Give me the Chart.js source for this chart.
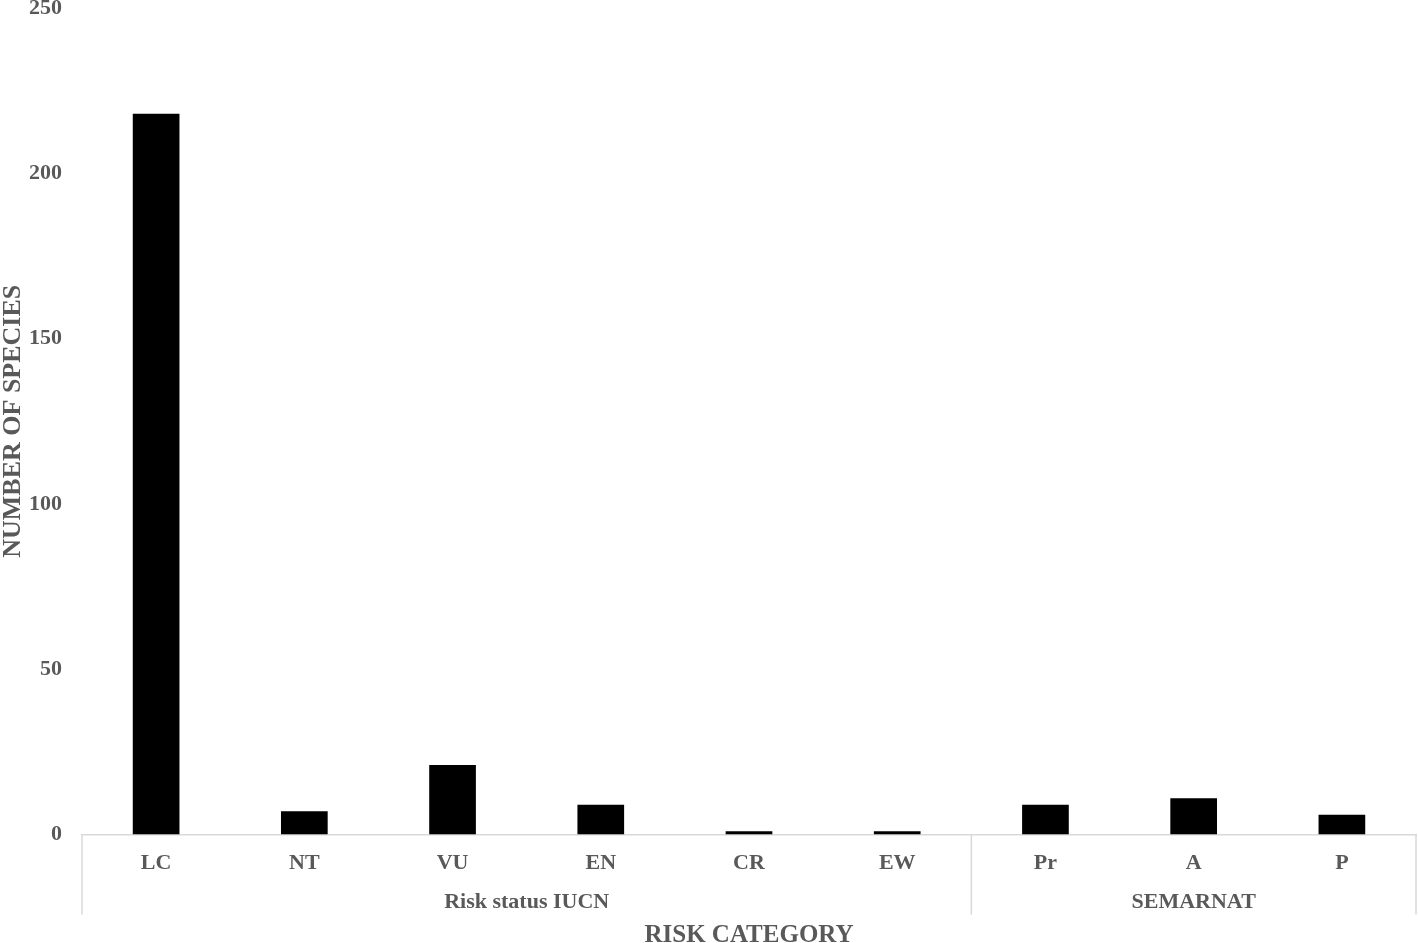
<!DOCTYPE html>
<html>
<head>
<meta charset="utf-8">
<title>Risk category</title>
<script src="https://cdn.jsdelivr.net/npm/chart.js@4.4.0/dist/chart.umd.min.js"></script>
<style>
  html, body { margin: 0; padding: 0; background: #fff; }
  #wrap { width: 1418px; height: 943px; position: relative; }
</style>
</head>
<body>
<div id="wrap"><canvas id="riskChart"></canvas></div>
<script>
// ---- data ----
const categories = ["LC", "NT", "VU", "EN", "CR", "EW", "Pr", "A", "P"];
const speciesCounts = [218, 7, 21, 9, 1, 1, 9, 11, 6];
const groupNames = ["Risk status IUCN", "SEMARNAT"];
const groupSizes = [6, 3];
const yTicks = [0, 50, 100, 150, 200, 250];

const FONT = "'Liberation Serif', 'Times New Roman', serif";
const GREY = "#595959";
const LINE = "#d9d9d9";

// group separators + group labels under the category ticks
const groupAxisPlugin = {
  id: "groupAxis",
  afterDraw(chart) {
    const { ctx, chartArea } = chart;
    const x = chart.scales.x;
    const top = chartArea.bottom;
    const bottom = top + 80;

    const edge = (i) => {
      if (i <= 0) return chartArea.left;
      if (i >= categories.length) return chartArea.right;
      return (x.getPixelForValue(i - 1) + x.getPixelForValue(i)) / 2;
    };

    ctx.save();
    ctx.strokeStyle = LINE;
    ctx.lineWidth = 1.5;
    ctx.fillStyle = GREY;
    ctx.font = "bold 22px " + FONT;
    ctx.textAlign = "center";
    ctx.textBaseline = "middle";

    let start = 0;
    const bounds = [edge(0)];
    groupNames.forEach((name, g) => {
      const end = start + groupSizes[g];
      const l = edge(start), r = edge(end);
      bounds.push(r);
      ctx.fillText(name, (l + r) / 2, top + 68);
      start = end;
    });

    bounds.forEach((bx) => {
      ctx.beginPath();
      ctx.moveTo(bx, top);
      ctx.lineTo(bx, bottom);
      ctx.stroke();
    });
    ctx.restore();
  }
};

const ctx = document.getElementById("riskChart").getContext("2d");

new Chart(ctx, {
  type: "bar",
  data: {
    labels: categories,
    datasets: [
      {
        label: "Number of species",
        data: speciesCounts,
        backgroundColor: "#000000",
        borderWidth: 0,
        barPercentage: 0.315,
        categoryPercentage: 1.0,
      },
    ],
  },
  options: {
    responsive: true,
    maintainAspectRatio: false,
    animation: false,
    layout: { padding: { top: 0, right: 2, bottom: 0, left: 0 } },
    plugins: {
      legend: { display: false },
      tooltip: { enabled: false },
    },
    scales: {
      x: {
        grid: { display: false, drawTicks: false },
        border: { display: true, color: LINE, width: 1.5 },
        ticks: {
          padding: 16,
          color: GREY,
          font: { family: FONT, size: 22, weight: "bold" },
        },
        title: {
          display: true,
          text: "RISK CATEGORY",
          color: GREY,
          padding: 0,
          font: { family: FONT, size: 25, weight: "bold", lineHeight: 0.6 },
        },
        afterFit(scale) { scale.height = 108.5; },
      },
      y: {
        min: 0,
        max: 250,
        grid: { display: false, drawTicks: false },
        border: { display: false },
        afterBuildTicks(scale) { scale.ticks = yTicks.map((v) => ({ value: v })); },
        ticks: {
          padding: 20,
          color: GREY,
          font: { family: FONT, size: 22, weight: "bold" },
        },
        title: {
          display: true,
          text: "NUMBER OF SPECIES",
          color: GREY,
          padding: 0,
          font: { family: FONT, size: 26, weight: "bold", lineHeight: 1 },
        },
        afterFit(scale) {
          scale.width = 82;
          scale.paddingTop = 8;
          scale.paddingBottom = 0;
        },
      },
    },
  },
  plugins: [groupAxisPlugin],
});
</script>
</body>
</html>
